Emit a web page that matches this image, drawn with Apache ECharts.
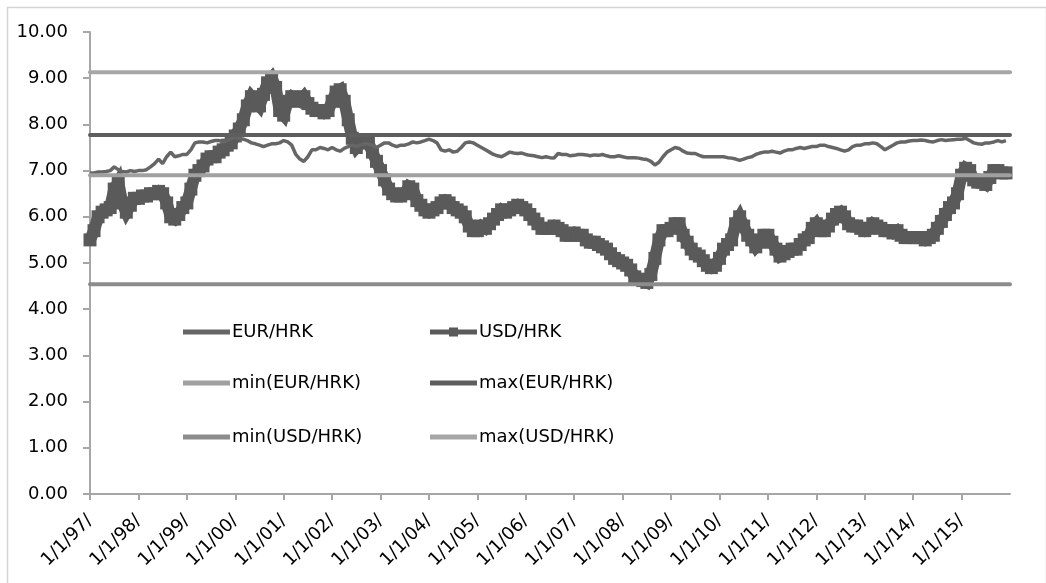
<!DOCTYPE html>
<html>
<head>
<meta charset="utf-8">
<script src="https://cdn.jsdelivr.net/npm/echarts@6/dist/echarts.min.js"></script>
<style>
html,body{margin:0;padding:0;background:#fff;}
#chart{width:1046px;height:583px;}
</style>
</head>
<body>
<div id="chart"></div>
<script>
// ---- data (monthly, Jan 1997 .. Dec 2015) ----
const startYear = 1997;
const endYear = 2016;
const tickLabels = ['1/1/97/','1/1/98/','1/1/99/','1/1/00/','1/1/01/','1/1/02/','1/1/03/','1/1/04/','1/1/05/','1/1/06/','1/1/07/','1/1/08/','1/1/09/','1/1/10/','1/1/11/','1/1/12/','1/1/13/','1/1/14/','1/1/15/'];

const usdHrk = [
  5.5, 5.7, 6.0, 6.1, 6.15, 6.2, 6.6, 6.75, 6.3, 6.1, 6.25, 6.4,          // 1997
  6.4, 6.45, 6.45, 6.5, 6.5, 6.55, 6.5, 6.3, 6.0, 5.95, 6.05, 6.2,         // 1998
  6.3, 6.6, 6.9, 7.0, 7.1, 7.25, 7.3, 7.3, 7.4, 7.45, 7.55, 7.6,           // 1999
  7.75, 7.9, 8.1, 8.4, 8.6, 8.5, 8.4, 8.65, 8.9, 9.0, 8.8, 8.3,            // 2000
  8.2, 8.5, 8.6, 8.55, 8.5, 8.6, 8.45, 8.35, 8.3, 8.3, 8.25, 8.3,          // 2001
  8.5, 8.7, 8.75, 8.5, 8.1, 7.7, 7.5, 7.6, 7.65, 7.6, 7.4, 7.2,            // 2002
  7.0, 6.8, 6.6, 6.5, 6.45, 6.45, 6.5, 6.65, 6.6, 6.35, 6.25, 6.15,        // 2003
  6.1, 6.15, 6.2, 6.3, 6.35, 6.3, 6.2, 6.15, 6.1, 6.0, 5.8, 5.7,           // 2004
  5.7, 5.8, 5.75, 5.85, 5.95, 6.05, 6.15, 6.1, 6.15, 6.2, 6.25, 6.2,       // 2005
  6.15, 6.05, 5.95, 5.85, 5.75, 5.75, 5.75, 5.8, 5.75, 5.7, 5.6, 5.6,      // 2006
  5.65, 5.6, 5.6, 5.5, 5.45, 5.45, 5.4, 5.35, 5.3, 5.2, 5.1, 5.05,         // 2007
  5.0, 4.95, 4.85, 4.7, 4.65, 4.62, 4.58, 4.75, 5.1, 5.5, 5.7, 5.7,        // 2008
  5.75, 5.85, 5.85, 5.6, 5.45, 5.3, 5.2, 5.15, 5.05, 4.95, 4.9, 4.95,      // 2009
  5.1, 5.3, 5.4, 5.5, 5.85, 6.0, 5.8, 5.6, 5.5, 5.35, 5.45, 5.6,           // 2010
  5.6, 5.45, 5.3, 5.15, 5.2, 5.25, 5.3, 5.3, 5.4, 5.5, 5.55, 5.75,         // 2011
  5.85, 5.7, 5.7, 5.8, 5.95, 6.05, 6.1, 6.0, 5.85, 5.8, 5.8, 5.75,         // 2012
  5.7, 5.75, 5.85, 5.8, 5.75, 5.7, 5.7, 5.65, 5.7, 5.6, 5.55, 5.55,        // 2013
  5.55, 5.55, 5.55, 5.5, 5.55, 5.6, 5.75, 5.9, 6.05, 6.2, 6.3, 6.5,        // 2014
  6.9, 7.05, 7.0, 6.8, 6.75, 6.75, 6.7, 6.85, 7.0, 7.0, 6.95, 6.95         // 2015
];

const eurHrk = [
  6.95, 6.95, 6.97, 6.97, 6.98, 7.0, 7.08, 7.02, 6.98, 6.97, 7.0, 6.98,    // 1997
  7.0, 7.0, 7.02, 7.08, 7.15, 7.25, 7.15, 7.3, 7.4, 7.3, 7.32, 7.35,       // 1998
  7.35, 7.45, 7.6, 7.62, 7.62, 7.6, 7.63, 7.65, 7.65, 7.62, 7.65, 7.7,     // 1999
  7.72, 7.7, 7.68, 7.65, 7.6, 7.58, 7.55, 7.52, 7.55, 7.58, 7.58, 7.6,     // 2000
  7.65, 7.62, 7.55, 7.35, 7.25, 7.2, 7.3, 7.45, 7.45, 7.5, 7.48, 7.45,     // 2001
  7.5, 7.45, 7.42, 7.48, 7.52, 7.55, 7.52, 7.55, 7.58, 7.57, 7.55, 7.5,    // 2002
  7.55, 7.6, 7.6, 7.55, 7.52, 7.55, 7.55, 7.58, 7.62, 7.6, 7.62, 7.65,     // 2003
  7.68, 7.65, 7.6, 7.45, 7.42, 7.45, 7.4, 7.42, 7.5, 7.6, 7.62, 7.6,       // 2004
  7.55, 7.5, 7.45, 7.4, 7.35, 7.32, 7.3, 7.35, 7.4, 7.38, 7.37, 7.38,      // 2005
  7.35, 7.33, 7.32, 7.3, 7.28, 7.3, 7.28, 7.27, 7.37, 7.35, 7.35, 7.32,    // 2006
  7.33, 7.35, 7.35, 7.34, 7.32, 7.34, 7.33, 7.35, 7.32, 7.3, 7.3, 7.32,    // 2007
  7.3, 7.28, 7.28, 7.28, 7.27, 7.25, 7.24, 7.2, 7.12, 7.18, 7.3, 7.4,      // 2008
  7.45, 7.5, 7.48, 7.42, 7.38, 7.37, 7.37, 7.33, 7.3, 7.3, 7.3, 7.3,       // 2009
  7.3, 7.3, 7.28, 7.27, 7.25, 7.22, 7.25, 7.28, 7.3, 7.35, 7.38, 7.4,      // 2010
  7.4, 7.42, 7.4, 7.38, 7.42, 7.45, 7.45, 7.48, 7.5, 7.48, 7.5, 7.52,      // 2011
  7.52, 7.55, 7.55, 7.52, 7.5, 7.48, 7.45, 7.42, 7.45, 7.52, 7.55, 7.55,   // 2012
  7.58, 7.58, 7.6, 7.58, 7.52, 7.45, 7.5, 7.55, 7.6, 7.62, 7.62, 7.64,     // 2013
  7.65, 7.65, 7.66, 7.65, 7.63, 7.62, 7.65, 7.67, 7.65, 7.66, 7.67, 7.68,  // 2014
  7.68, 7.7, 7.65, 7.6, 7.58, 7.57, 7.6, 7.6, 7.62, 7.65, 7.62, 7.65       // 2015
];

const minEur = 6.90;
const maxEur = 7.77;
const minUsd = 4.54;
const maxUsd = 9.13;

// ---- build ----
const toPoints = arr => arr.map((v, i) => [startYear + i / 12, v]);
const flat = v => [[startYear, v], [endYear, v]];

const chart = echarts.init(document.getElementById('chart'), null, {renderer: 'canvas'});
const FONT = 'DejaVu Sans';
const LINE_ICON = 'path://M0,3L47,3L47,8L0,8Z';
const MARK_ICON = 'path://M0,3L47,3L47,8L0,8Z M19,1L28,1L28,10L19,10Z';

function legendAt(name, left, centerY, icon) {
  return {
    data: [{name: name, icon: icon}], left: left, top: centerY - 11, padding: 0,
    itemWidth: 47, itemHeight: 11, itemGap: 0,
    textStyle: {fontFamily: FONT, fontSize: 18, color: '#000', padding: [0, 0, 0, -3]},
    selectedMode: false
  };
}

const option = {
  backgroundColor: '#fff',
  animation: false,
  graphic: [{
    type: 'rect', left: 5, top: 5, silent: true,
    shape: {width: 1039, height: 600},
    style: {fill: 'none', stroke: '#d4d4d4', lineWidth: 1.5}
  }],
  grid: {left: 90, right: 36, top: 32, bottom: 89, containLabel: false},
  legend: [
    legendAt('EUR/HRK', 183, 334, LINE_ICON),
    legendAt('USD/HRK', 430, 334, MARK_ICON),
    legendAt('min(EUR/HRK)', 183, 385, LINE_ICON),
    legendAt('max(EUR/HRK)', 430, 385, LINE_ICON),
    legendAt('min(USD/HRK)', 183, 439, LINE_ICON),
    legendAt('max(USD/HRK)', 430, 439, LINE_ICON)
  ],
  xAxis: {
    type: 'value', min: startYear, max: endYear, interval: 1,
    splitLine: {show: false},
    axisLine: {lineStyle: {color: '#a6a6a6', width: 2}},
    axisTick: {show: true, length: 6, lineStyle: {color: '#a6a6a6', width: 2}},
    axisLabel: {
      rotate: 45, margin: 24, color: '#000', fontFamily: FONT, fontSize: 18,
      showMaxLabel: false,
      formatter: v => { const i = Math.round(v - startYear); return (i >= 0 && i < tickLabels.length) ? tickLabels[i] : ''; }
    }
  },
  yAxis: {
    type: 'value', min: 0, max: 10, interval: 1,
    splitLine: {show: false},
    axisLine: {show: true, lineStyle: {color: '#a6a6a6', width: 2}},
    axisTick: {show: true, length: 7, lineStyle: {color: '#a6a6a6', width: 2}},
    axisLabel: {margin: 22, color: '#000', fontFamily: FONT, fontSize: 18, formatter: v => v.toFixed(2)}
  },
  series: [
    {
      name: 'USD/HRK', type: 'line', data: toPoints(usdHrk), z: 2,
      symbol: 'rect', symbolSize: 13, showSymbol: true, showAllSymbol: true,
      itemStyle: {color: '#5a5a5a'},
      lineStyle: {color: '#5a5a5a', width: 12, join: 'miter'}
    },
    {
      name: 'EUR/HRK', type: 'line', data: toPoints(eurHrk), z: 3,
      symbol: 'none', itemStyle: {color: '#666'},
      lineStyle: {color: '#666', width: 3.5}
    },
    {name: 'min(EUR/HRK)', type: 'line', data: flat(minEur), z: 4, symbol: 'none',
     itemStyle: {color: '#a0a0a0'}, lineStyle: {color: '#a0a0a0', width: 4, cap: 'round'}},
    {name: 'max(EUR/HRK)', type: 'line', data: flat(maxEur), z: 4, symbol: 'none',
     itemStyle: {color: '#5e5e5e'}, lineStyle: {color: '#5e5e5e', width: 4, cap: 'round'}},
    {name: 'min(USD/HRK)', type: 'line', data: flat(minUsd), z: 4, symbol: 'none',
     itemStyle: {color: '#8c8c8c'}, lineStyle: {color: '#8c8c8c', width: 4, cap: 'round'}},
    {name: 'max(USD/HRK)', type: 'line', data: flat(maxUsd), z: 4, symbol: 'none',
     itemStyle: {color: '#a6a6a6'}, lineStyle: {color: '#a6a6a6', width: 4, cap: 'round'}}
  ]
};
chart.setOption(option);
</script>
</body>
</html>
